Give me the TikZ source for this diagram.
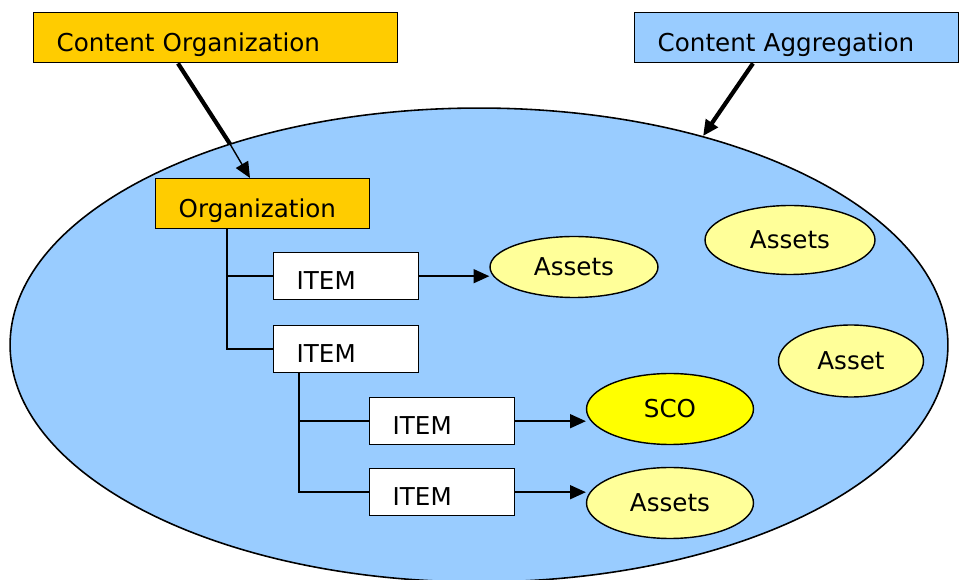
\documentclass[tikz,border=0pt]{standalone}
\usepackage{fontspec}
\setmainfont{DejaVu Sans}
\usetikzlibrary{arrows.meta,shapes.geometric}
\definecolor{orgyellow}{HTML}{FFCC00}
\definecolor{aggblue}{HTML}{99CCFF}
\definecolor{assetyellow}{HTML}{FFFF99}
\definecolor{scoyellow}{HTML}{FFFF00}
\begin{document}
\begin{tikzpicture}[x=0.02cm, y=-0.02cm, >={Triangle[length=9pt,width=8pt]},
  box/.style={draw, line width=0.8pt, anchor=north west, align=left,
    inner xsep=0.46cm, inner ysep=0pt, text height=15.5pt, text depth=0pt,
    font=\fontsize{14}{17}\selectfont},
  blob/.style={ellipse, draw, line width=0.8pt, fill=assetyellow, inner sep=0pt,
    font=\fontsize{14}{17}\selectfont},
  tree/.style={line width=0.85pt}]
  \useasboundingbox (0,0) rectangle (960,580);

  % Content aggregation area
  \node[ellipse, draw, line width=0.9pt, fill=aggblue,
    minimum width=18.76cm, minimum height=9.48cm] (agg) at (479,345) {};

  % Labels at the top
  \node[box, fill=orgyellow, text width=6.36cm, minimum height=1cm] (co) at (33,12) {Content Organization};
  \node[box, fill=aggblue, text width=5.56cm, minimum height=1cm] (ca) at (634,12) {Content Aggregation};

  % Organization and its items
  \node[box, fill=orgyellow, text width=3.36cm, minimum height=1cm] (org) at (155,178) {Organization};
  \node[box, fill=white, text width=1.98cm, minimum height=0.94cm] (item1) at (273,252) {ITEM};
  \node[box, fill=white, text width=1.98cm, minimum height=0.94cm] (item2) at (273,325) {ITEM};
  \node[box, fill=white, text width=1.98cm, minimum height=0.94cm] (item3) at (369,397) {ITEM};
  \node[box, fill=white, text width=1.98cm, minimum height=0.94cm] (item4) at (369,468) {ITEM};

  % Resources
  \node[blob, minimum width=3.36cm, minimum height=1.22cm] (assets1) at (574,267) {Assets};
  \node[blob, minimum width=3.4cm, minimum height=1.38cm] (assets2) at (790,240) {Assets};
  \node[blob, minimum width=2.9cm, minimum height=1.44cm] (asset) at (851,361) {Asset};
  \node[blob, fill=scoyellow, minimum width=3.34cm, minimum height=1.42cm] (sco) at (670,409) {SCO};
  \node[blob, minimum width=3.34cm, minimum height=1.42cm] (assets3) at (670,503) {Assets};

  % Pointers from the labels
  \coordinate (co edge) at (230,144);
  \draw[line width=2.4pt] ([xshift=2.9cm]co.south west) -- (co edge);
  \draw[->, line width=0.8pt] (co edge) -- ([xshift=1.9cm]org.north west);
  \draw[->, line width=2.4pt] ([xshift=2.38cm]ca.south west) -- (agg.43);

  % Tree lines
  \draw[tree] ([xshift=1.44cm]org.south west) |- (item1.west);
  \draw[tree] ([xshift=1.44cm]org.south west) |- (item2.west);
  \draw[tree] ([xshift=0.52cm]item2.south west) |- (item3.west);
  \draw[tree] ([xshift=0.52cm]item2.south west) |- (item4.west);

  % Items to resources
  \draw[tree, ->] (item1.east) -- (item1.east -| assets1.west);
  \draw[tree, ->] (item3.east) -- (item3.east -| sco.west);
  \draw[tree, ->] (item4.east) -- (item4.east -| assets3.west);
\end{tikzpicture}
\end{document}
